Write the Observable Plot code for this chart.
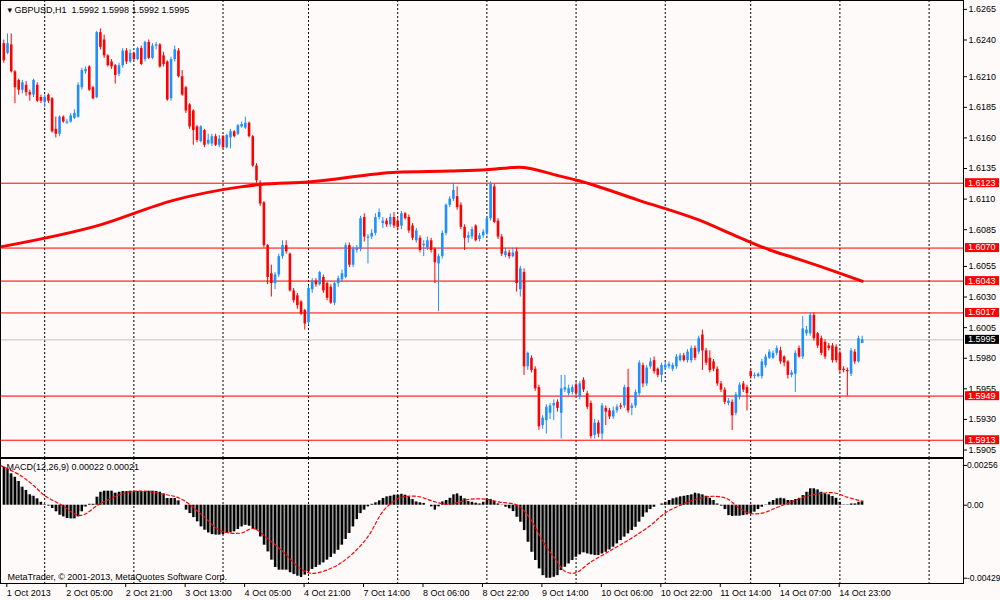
<!DOCTYPE html>
<html><head><meta charset="utf-8">
<script src="https://cdn.jsdelivr.net/npm/d3@7"></script>
<script src="https://cdn.jsdelivr.net/npm/@observablehq/plot@0.6"></script>
<style>
body{margin:0;background:#fffafa;}
#wrap{position:relative;width:1000px;height:600px;overflow:hidden;background:#fffafa;}
#wrap svg{display:block;}
</style></head><body><div id="wrap"></div>
<script>
// ---- DATA (prices in 1/10000 units, e.g. 16237 = 1.6237) ----
const openP = [
16237,16229,16236,16214,16207,16199,16203,16197,16195,16203,
16193,16189,16195,16192,16167,16163,16177,16172,16173,16176,
16177,16201,16214,16218,16201,16193,16246,16240,16227,16222,
16219,16212,16219,16231,16222,16229,16224,16233,16224,16238,
16225,16235,16236,16227,16222,16192,16224,16231,16210,16201,
16187,16182,16169,16157,16166,16155,16155,16161,16154,16161,
16152,16160,16165,16163,16169,16168,16172,16161,16137,16123,
16107,16072,16049,16041,16048,16063,16072,16065,16035,16031,
16026,16019,16009,16036,16043,16040,16046,16041,16038,16025,
16041,16044,16046,16072,16056,16068,16069,16095,16078,16079,
16082,16095,16090,16092,16089,16095,16092,16088,16098,16095,
16088,16076,16078,16072,16070,16076,16069,16057,16063,16082,
16105,16110,16112,16105,16087,16078,16079,16088,16077,16080,
16082,16094,16120,16092,16079,16064,16066,16063,16067,16036,
16050,15973,15980,15971,15956,15925,15929,15935,15941,15944,
15935,15954,15951,15952,15958,15948,15962,15951,15943,15917,
15927,15918,15939,15937,15932,15937,15941,15941,15956,15939,
15941,15951,15974,15959,15973,15978,15971,15966,15972,15973,
15971,15973,15978,15982,15978,15978,15988,15985,15999,15986,
15980,15977,15971,15959,15954,15943,15944,15935,15948,15959,
15956,15969,15965,15965,15965,15974,15980,15980,15984,15986,
15981,15977,15966,15967,15988,15981,16000,16000,16015,16000,
15996,15993,15990,15990,15989,15984,15971,15970,15967,15985,
15977,15992];
const highP = [
16240,16245,16245,16215,16208,16207,16206,16199,16208,16205,
16195,16195,16196,16193,16177,16178,16178,16175,16180,16183,
16205,16217,16218,16219,16202,16247,16249,16244,16228,16224,
16220,16221,16233,16233,16232,16230,16234,16235,16239,16240,
16237,16238,16237,16230,16223,16226,16235,16233,16215,16202,
16188,16183,16170,16170,16167,16163,16163,16163,16162,16162,
16163,16167,16166,16171,16173,16177,16173,16162,16139,16125,
16108,16073,16056,16050,16065,16076,16076,16066,16037,16033,
16027,16020,16039,16045,16045,16051,16048,16042,16040,16042,
16047,16052,16074,16074,16071,16072,16096,16098,16081,16085,
16098,16102,16095,16094,16098,16099,16094,16100,16099,16097,
16090,16086,16080,16076,16079,16078,16070,16065,16084,16106,
16112,16123,16120,16107,16089,16083,16087,16089,16082,16085,
16096,16124,16122,16094,16081,16070,16068,16070,16070,16055,
16053,15985,15982,15973,15958,15933,15942,15943,15946,15946,
15966,15966,15958,15958,15960,15961,15964,15953,15945,15930,
15929,15943,15941,15939,15940,15942,15943,15958,15971,15943,
15954,15978,15976,15974,15980,15981,15972,15976,15977,15977,
15976,15983,15984,15984,15987,15990,15990,15998,16003,15988,
15986,15979,15973,15961,15956,15947,15946,15952,15960,15961,
15958,15971,15968,15968,15979,15983,15987,15986,15990,15989,
15982,15978,15970,15986,15990,16014,16006,16017,16017,16001,
15998,15995,15992,15992,15991,15986,15973,15972,15988,15987,
15998,15998];
const lowP = [
16221,16228,16213,16188,16195,16196,16194,16190,16193,16189,
16188,16185,16188,16164,16160,16161,16172,16171,16172,16175,
16176,16199,16212,16198,16191,16192,16232,16225,16218,16216,
16204,16210,16217,16220,16221,16223,16223,16219,16222,16224,
16224,16232,16217,16218,16190,16190,16222,16209,16194,16180,
16167,16154,16156,16156,16152,16154,16153,16153,16152,16151,
16151,16151,16160,16162,16168,16167,16160,16136,16123,16104,
16070,16040,16030,16036,16046,16061,16065,16034,16025,16020,
16015,16003,16007,16033,16038,16039,16033,16027,16024,16023,
16038,16042,16045,16054,16054,16066,16067,16075,16057,16077,
16080,16093,16086,16087,16087,16086,16084,16085,16093,16082,
16076,16074,16066,16063,16068,16066,16041,16018,16061,16080,
16103,16108,16101,16085,16068,16074,16077,16075,16075,16078,
16080,16092,16090,16077,16063,16062,16061,16062,16034,16030,
15966,15970,15968,15953,15921,15922,15918,15930,15929,15936,
15914,15952,15949,15950,15949,15946,15952,15938,15914,15914,
15915,15913,15925,15930,15930,15935,15938,15939,15935,15933,
15939,15949,15956,15957,15971,15967,15964,15960,15970,15971,
15969,15971,15977,15977,15976,15976,15978,15983,15970,15974,
15968,15969,15957,15952,15942,15941,15921,15933,15946,15952,
15937,15963,15963,15964,15963,15972,15979,15979,15982,15975,
15973,15963,15964,15952,15980,15979,15998,15998,15994,15988,
15982,15979,15986,15976,15976,15968,15968,15949,15965,15975,
15976,15992];
const closeP = [
16223,16237,16214,16201,16199,16205,16197,16195,16207,16190,
16190,16193,16190,16165,16163,16177,16173,16173,16178,16180,
16203,16215,16216,16199,16192,16246,16234,16227,16219,16218,
16211,16219,16231,16222,16229,16224,16233,16220,16238,16225,
16235,16236,16218,16220,16191,16224,16232,16210,16195,16182,
16169,16166,16158,16169,16154,16158,16161,16154,16159,16152,
16162,16165,16161,16170,16171,16172,16161,16137,16125,16106,
16072,16046,16041,16048,16063,16072,16067,16035,16027,16023,
16016,16008,16037,16043,16040,16050,16035,16029,16025,16041,
16045,16049,16072,16056,16069,16070,16094,16079,16079,16082,
16095,16099,16092,16089,16095,16088,16087,16098,16094,16084,
16078,16084,16068,16073,16076,16068,16058,16063,16082,16105,
16110,16117,16103,16087,16078,16080,16085,16076,16080,16083,
16094,16122,16091,16079,16065,16067,16063,16066,16041,16053,
15973,15984,15970,15955,15924,15931,15940,15941,15943,15939,
15955,15956,15955,15956,15951,15959,15954,15940,15916,15927,
15918,15941,15936,15932,15937,15940,15940,15956,15937,15941,
15952,15976,15959,15972,15977,15969,15966,15974,15974,15975,
15974,15981,15982,15978,15985,15988,15980,15996,15986,15976,
15970,15971,15959,15954,15944,15945,15933,15950,15958,15954,
15951,15965,15966,15967,15977,15981,15985,15984,15988,15977,
15976,15966,15968,15984,15981,16004,16003,16015,15996,15990,
15984,15981,15988,15978,15978,15970,15970,15969,15986,15977,
15996,15995];

// MACD(12,26,9) main values (histogram), one per bar
const macdMain = [
0.00209,0.00196,0.00172,0.00153,0.00130,0.00099,0.00081,0.00057,0.00049,0.00035,
0.00016,0.00003,-0.00005,-0.00018,-0.00036,-0.00055,-0.00064,-0.00073,-0.00075,-0.00075,
-0.00064,-0.00036,-0.00010,0.00005,0.00005,0.00044,0.00071,0.00077,0.00077,0.00077,
0.00066,0.00071,0.00075,0.00075,0.00077,0.00075,0.00075,0.00075,0.00075,0.00077,
0.00077,0.00075,0.00071,0.00062,0.00037,0.00037,0.00037,0.00024,0.00000,-0.00027,
-0.00046,-0.00068,-0.00091,-0.00119,-0.00137,-0.00152,-0.00161,-0.00164,-0.00164,-0.00161,
-0.00155,-0.00152,-0.00146,-0.00133,-0.00119,-0.00110,-0.00115,-0.00128,-0.00137,-0.00174,
-0.00219,-0.00256,-0.00301,-0.00341,-0.00356,-0.00356,-0.00356,-0.00370,-0.00380,-0.00389,
-0.00396,-0.00383,-0.00365,-0.00352,-0.00341,-0.00329,-0.00316,-0.00301,-0.00286,-0.00268,
-0.00247,-0.00219,-0.00188,-0.00155,-0.00119,-0.00079,-0.00046,-0.00027,-0.00009,0.00005,
0.00013,0.00024,0.00037,0.00046,0.00049,0.00055,0.00055,0.00060,0.00055,0.00046,
0.00031,0.00018,0.00013,0.00010,0.00000,-0.00009,-0.00027,-0.00009,0.00018,0.00026,
0.00038,0.00057,0.00062,0.00049,0.00035,0.00020,0.00016,0.00011,0.00007,0.00016,
0.00035,0.00031,0.00020,0.00007,-0.00002,-0.00011,-0.00020,-0.00035,-0.00066,-0.00093,
-0.00139,-0.00203,-0.00258,-0.00303,-0.00349,-0.00386,-0.00400,-0.00400,-0.00395,-0.00386,
-0.00358,-0.00340,-0.00322,-0.00303,-0.00285,-0.00272,-0.00261,-0.00267,-0.00272,-0.00276,
-0.00276,-0.00267,-0.00258,-0.00245,-0.00230,-0.00212,-0.00194,-0.00175,-0.00157,-0.00139,
-0.00121,-0.00093,-0.00066,-0.00042,-0.00024,-0.00011,0.00000,0.00007,0.00016,0.00026,
0.00035,0.00040,0.00046,0.00049,0.00053,0.00057,0.00066,0.00062,0.00057,0.00049,
0.00038,0.00026,0.00007,-0.00005,-0.00024,-0.00057,-0.00062,-0.00060,-0.00060,-0.00057,
-0.00053,-0.00048,-0.00038,-0.00024,-0.00011,0.00002,0.00016,0.00026,0.00035,0.00038,
0.00035,0.00026,0.00026,0.00031,0.00038,0.00053,0.00071,0.00090,0.00090,0.00084,
0.00071,0.00062,0.00057,0.00048,0.00038,0.00016,0.00002,0.00002,0.00007,0.00007,
0.00016,0.00022];

// MACD signal line, read at sample bars
const signalBars = [-0.9,4.5,8,11,15.3,20.6,26,33.3,37.6,43,47.5,53,58.3,63.7,67.2,71,75.3,79.8,83,88.7,93.3,97.9,102.2,106,108.6,112,115,119.5,125.6,129.6,133.7,138.2,141.7,145.2,149,151,153.8,157.9,163.3,168.6,174,178,182.1,186.7,191,194.7,197.5,200.9,204.4,208.2,211.7,215.2,219,223.3,227,231];
const signalValues = [0.00218,0.00163,0.00108,0.00053,0.00004,-0.00056,0.00009,0.00071,0.00077,0.00060,0.00037,-0.00046,-0.00139,-0.00153,-0.00128,-0.00183,-0.00258,-0.00347,-0.00373,-0.00340,-0.00276,-0.00175,-0.00029,0.00035,0.00049,0.00046,0.00025,0.00005,0.00033,0.00033,0.00016,0.00000,-0.00075,-0.00203,-0.00312,-0.00362,-0.00371,-0.00312,-0.00248,-0.00185,-0.00111,-0.00042,0.00000,0.00035,0.00049,0.00035,-0.00010,-0.00045,-0.00042,-0.00011,0.00016,0.00044,0.00062,0.00068,0.00044,0.00021];

// Moving average (red thick line), read at sample bars
const maBars = [-0.9,26,45.6,63.7,69,82,105.7,120,130,138.5,149.4,154.8,170.9,187,197.7,206.5,213.8,224.5,231];
const maValues = [1.6071,1.6089,1.6109,1.6120,1.6122,1.6124,1.6132,1.6133,1.6134,1.6136,1.6129,1.6125,1.6109,1.6093,1.6079,1.6068,1.6061,1.6050,1.6043];

const levels = [1.6123, 1.6070, 1.6043, 1.6017, 1.5949, 1.5913];
const bidPrice = 1.5995;
const priceTicks = [1.6265,1.6240,1.6210,1.6185,1.6160,1.6135,1.6110,1.6085,1.6055,1.6030,1.6005,1.5980,1.5955,1.5930,1.5905];
const daySeparators = [11,35,59,82,106,130,154,178,201,225,249];
const timeTickBars = [0,16,32,48,64,80,96,112,128,144,160,176,192,208,224];
const timeTickLabels = ["1 Oct 2013","2 Oct 05:00","2 Oct 21:00","3 Oct 13:00","4 Oct 05:00","4 Oct 21:00","7 Oct 14:00","8 Oct 06:00","8 Oct 22:00","9 Oct 14:00","10 Oct 06:00","10 Oct 22:00","11 Oct 14:00","14 Oct 07:00","14 Oct 23:00"];
const macdTickValues = [0.00218, 0, -0.00400];
const macdTickLabels = ["0.00256", "0.00", "-0.00429"];
const titleText = "\u25BE GBPUSD,H1 \u00A01.5992 1.5998 1.5992 1.5995";
const macdLabel = "MACD(12,26,9) 0.00022 0.00021";
const copyright = "MetaTrader, \u00A9 2001-2013, MetaQuotes Software Corp.";

// ---- CHART ----
const FONT = "'Liberation Sans', Arial, 'DejaVu Sans', sans-serif";
const BLUE = "#1e90ff", RED = "#ff0000", BG = "#fffafa";
const STYLE = {background: BG, fontFamily: FONT, fontSize: "9px", color: "#000", overflow: "visible"};
const X_DOMAIN = [-3.3 / 3.716, (963 - 3.3) / 3.716];

const bars = closeP.map((c, i) => ({
  i, o: openP[i] / 1e4, h: highP[i] / 1e4, l: lowP[i] / 1e4, c: c / 1e4,
  col: c >= openP[i] ? BLUE : RED
}));
const maPts = maBars.map((b, k) => ({b, v: maValues[k]}));
const sigPts = signalBars.map((b, k) => ({b, v: signalValues[k]}));
const macdBars = macdMain.map((v, i) => ({i, v}));
// grey seams between adjacent histogram bars (as in the screenshot)
const seams = macdMain.slice(0, -1).map((v, i) => {
  const w = macdMain[i + 1];
  const same = (v > 0 && w > 0) || (v < 0 && w < 0);
  return {x: i + 0.5, v: same ? (v > 0 ? Math.min(v, w) : Math.max(v, w)) : 0};
}).filter(d => d.v !== 0);
const softLevels = new Set([1.6043, 1.5949]);
const timeLabelMap = new Map(timeTickBars.map((b, k) => [b, timeTickLabels[k]]));
const macdLabelMap = new Map(macdTickValues.map((v, k) => [v, macdTickLabels[k]]));

const main = Plot.plot({
  width: 1000, height: 457,
  marginLeft: 0, marginRight: 37, marginTop: 0, marginBottom: 0,
  x: {domain: X_DOMAIN, axis: null},
  y: {domain: [1.589890, 1.627227], axis: null},
  style: STYLE,
  marks: [
    Plot.ruleX(daySeparators, {x: d => d, stroke: "#000", strokeDasharray: "2,2"}),
    Plot.ruleY(levels.filter(d => !softLevels.has(d)), {y: d => d, stroke: RED, strokeWidth: 1}),
    Plot.ruleY(levels.filter(d => softLevels.has(d)), {y: d => d, stroke: RED, strokeOpacity: 0.6, strokeWidth: 1.8}),
    Plot.ruleY([bidPrice], {y: d => d, stroke: "#c0c0c0"}),
    Plot.ruleX(bars, {x: "i", y1: "l", y2: "h", stroke: "col", strokeWidth: 1}),
    Plot.ruleX(bars, {x: "i", y1: "o", y2: "c", stroke: "col", strokeWidth: 2.6}),
    Plot.line(maPts, {x: "b", y: "v", stroke: RED, strokeWidth: 3, curve: "monotone-x"}),
    Plot.axisY(priceTicks, {anchor: "right", label: null, tickSize: 3, tickPadding: 2, tickFormat: d => d.toFixed(4)}),
    Plot.frame({stroke: "#000"}),
    Plot.text([titleText], {text: d => d, frameAnchor: "top-left", dx: 7, dy: 10, textAnchor: "start", lineAnchor: "middle", fill: "#000"})
  ]
});

const macd = Plot.plot({
  width: 1000, height: 143,
  marginLeft: 0, marginRight: 37, marginTop: 1, marginBottom: 17,
  x: {domain: X_DOMAIN, axis: null},
  y: {domain: [-0.00429, 0.00256], axis: null},
  style: STYLE,
  marks: [
    Plot.ruleX(daySeparators, {x: d => d, stroke: "#000", strokeDasharray: "2,2"}),
    Plot.ruleX(seams, {x: "x", y1: 0, y2: "v", stroke: "#9a9a9a", strokeWidth: 1.4}),
    Plot.ruleX(macdBars, {x: "i", y1: 0, y2: "v", stroke: "#000", strokeWidth: 2.3}),
    Plot.line(sigPts, {x: "b", y: "v", stroke: RED, strokeWidth: 1.2, strokeDasharray: "3,2.5", curve: "catmull-rom"}),
    Plot.axisY(macdTickValues, {anchor: "right", label: null, tickSize: 3, tickPadding: 0.5, fontSize: 8.5, tickFormat: d => macdLabelMap.get(d)}),
    Plot.axisX(timeTickBars, {anchor: "bottom", label: null, tickSize: 4, tickPadding: 2, textAnchor: "start", dx: 3, tickFormat: d => timeLabelMap.get(d)}),
    Plot.frame({stroke: "#000"}),
    Plot.text([macdLabel], {text: d => d, frameAnchor: "top-left", dx: 6, dy: 9, textAnchor: "start", lineAnchor: "middle", fill: "#000"}),
    Plot.text([copyright], {text: d => d, frameAnchor: "bottom-left", dx: 7, dy: -6, textAnchor: "start", lineAnchor: "middle", fill: "#000"})
  ]
});

const wrap = document.getElementById("wrap");
wrap.appendChild(main);
wrap.appendChild(macd);

// price-level tags on the right axis, positioned via Plot's y scale
const yS = main.scale("y");
const g = d3.select(main).append("g")
  .attr("font-family", FONT).attr("font-size", 9).attr("text-anchor", "start");
const tags = levels.map(p => ({p, fill: RED})).concat([{p: bidPrice, fill: "#000"}]);
tags.forEach(t => {
  const y = yS.apply(t.p);
  g.append("rect").attr("x", 965).attr("y", y - 4.5).attr("width", 34).attr("height", 9).attr("fill", t.fill);
  g.append("text").attr("x", 968).attr("y", y).attr("dy", "0.32em").attr("fill", "#fff")
    .attr("text-anchor", "start").text(t.p.toFixed(4));
});
</script>
</body></html>
